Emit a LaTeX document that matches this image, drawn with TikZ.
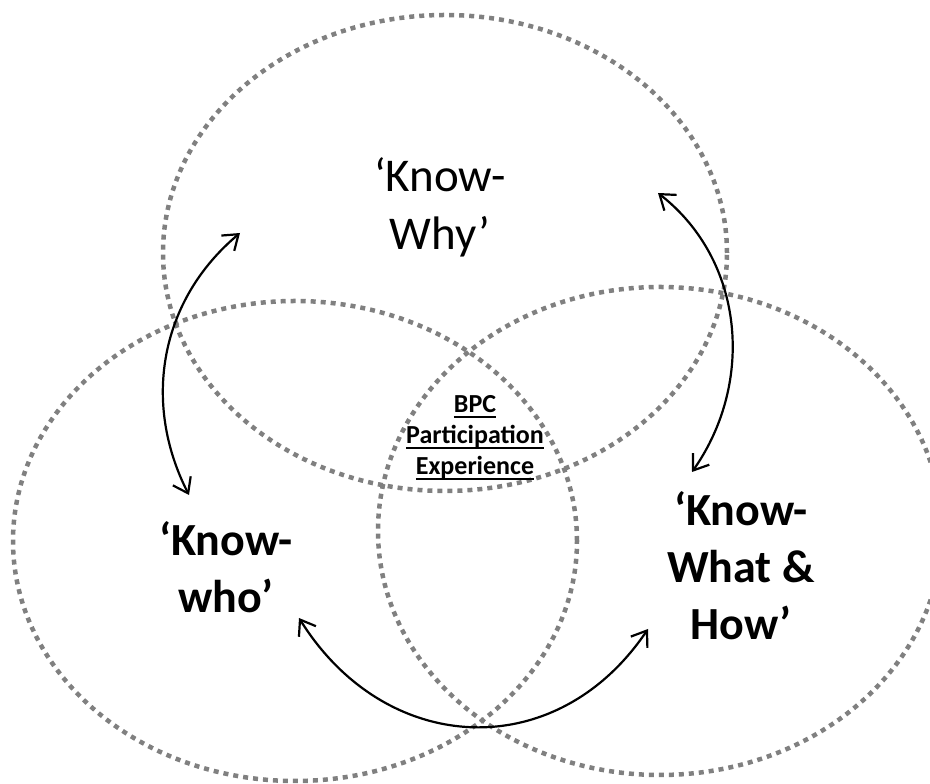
\documentclass[tikz,border=0pt]{standalone}
\usepackage{fontspec}
\setmainfont{Carlito}
\usetikzlibrary{shapes.geometric,arrows.meta}
\definecolor{dotgray}{RGB}{128,128,128}
\newsavebox{\ulbox}
\newcommand{\uln}[1]{\sbox{\ulbox}{#1}\rlap{\rule[-4.6pt]{\wd\ulbox}{1.8pt}}\usebox{\ulbox}}
\tikzset{
  kset/.style={ellipse, draw=dotgray, line width=4.5pt, dash pattern=on 5pt off 5pt, inner sep=0pt, minimum width=564pt},
  kname/.style={align=center, anchor=base, font=\fontsize{47}{58}\selectfont},
  bpc/.style={align=center, anchor=base, font=\bfseries\fontsize{26}{31}\selectfont},
  link/.style={<->, >={Straight Barb[length=14pt,width=20pt]}, line width=2.2pt},
}

\begin{document}
\begin{tikzpicture}[x=1pt,y=1pt]
\useasboundingbox (0,0) rectangle (930,784);

% the three circles
\node[kset, minimum height=476pt] (whyset) at (445,531) {};
\node[kset, minimum height=480pt] (whoset) at (295,243) {};
\node[kset, minimum height=488pt] (howset) at (660,253) {};

% labels (base = last line)
\node[kname] (why) at (440,534) {‘Know-\\Why’};
\node[kname, font=\bfseries\fontsize{46}{57}\selectfont] (who) at (226,171) {‘Know-\\who’};
\node[kname, font=\bfseries\fontsize{46}{57}\selectfont] (how) at (741,144) {‘Know-\\What \&\\How’};
\node[bpc] (bpc) at (475,309) {\uln{BPC}\\\uln{Participation}\\\uln{Experience}};

% arrow ends
\coordinate (whyL) at (240,551);
\coordinate (whyR) at (658,591);
\coordinate (whoT) at (189,289);
\coordinate (whoB) at (299,166);
\coordinate (howT) at (692,312);
\coordinate (howB) at (648,155);

\draw[link] (whyL) to[out=220,in=117] (whoT);
\draw[link] (whyR) to[out=-38,in=55] (howT);
\draw[link] (whoB) to[out=-58,in=236,looseness=1.2] (howB);
\end{tikzpicture}
\end{document}
